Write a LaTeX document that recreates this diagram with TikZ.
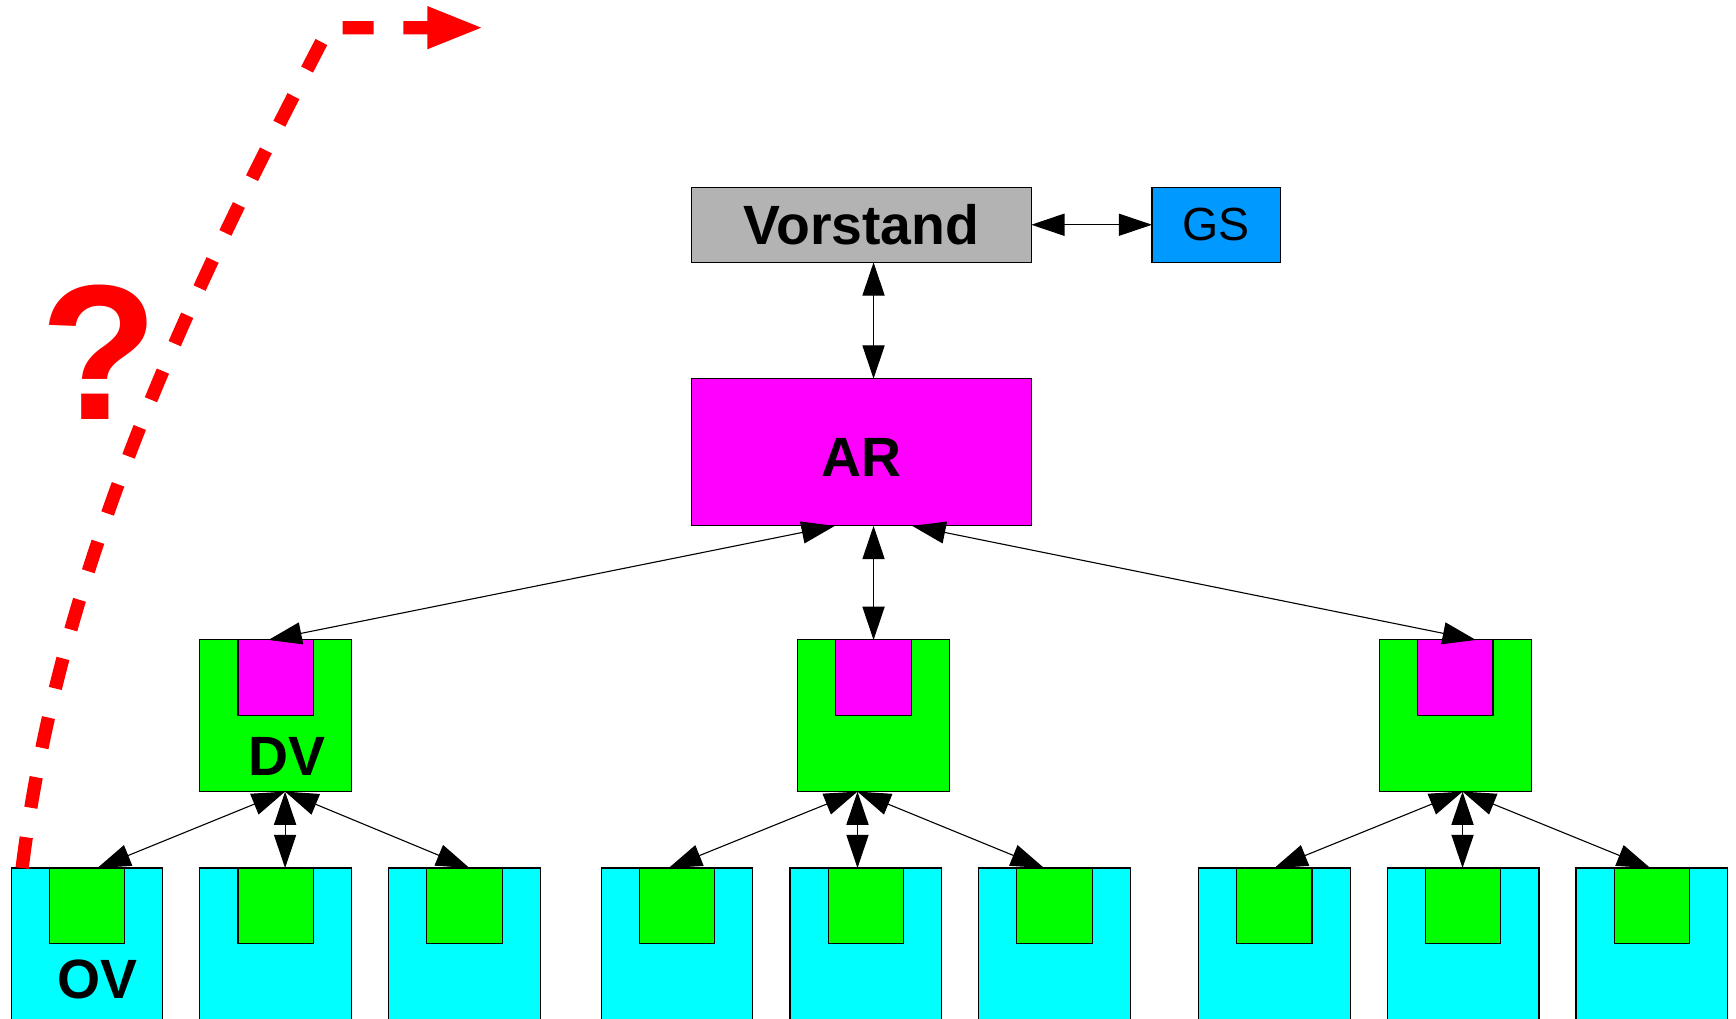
\documentclass[tikz,border=0pt]{standalone}
\usepackage{fontspec}
\setmainfont{Liberation Sans}
\usetikzlibrary{positioning,arrows.meta}

\definecolor{boardgray}{HTML}{B3B3B3}
\definecolor{gsblue}{HTML}{0099FF}
\definecolor{armagenta}{HTML}{FF00FF}
\definecolor{dvgreen}{HTML}{00FF00}
\definecolor{ovcyan}{HTML}{00FFFF}
\definecolor{askred}{HTML}{FF0000}

\begin{document}
\begin{tikzpicture}[x=1pt,y=-1pt,node distance=33.5pt,
        box node/.style={draw=black,line width=1pt,inner sep=0pt,outer sep=0pt},
        head node/.style={box node,minimum width=307pt,font=\fontsize{50}{50}\selectfont\bfseries},
        dv node/.style={box node,fill=dvgreen,minimum width=137pt,minimum height=137pt},
        ov node/.style={box node,fill=ovcyan,minimum width=137pt,minimum height=140pt},
        core node/.style={box node,minimum width=68pt,minimum height=68pt,anchor=north},
        tag node/.style={inner sep=0pt,anchor=base,font=\fontsize{50}{50}\selectfont\bfseries},
        link/.style={line width=1pt,>={Triangle[length=30pt,width=20pt]},<->}]

        \useasboundingbox (0,0) rectangle (1568,920);

        % Define vertices
        \node[ov node,anchor=north west] (ov1) at (10,784) {};
        \node[ov node] (ov2) [right=of ov1] {};
        \node[ov node] (ov3) [right=of ov2] {};
        \node[ov node] (ov4) [right=55pt of ov3] {};
        \node[ov node] (ov5) [right=of ov4] {};
        \node[ov node] (ov6) [right=of ov5] {};
        \node[ov node] (ov7) [right=61.5pt of ov6] {};
        \node[ov node] (ov8) [right=of ov7] {};
        \node[ov node] (ov9) [right=of ov8] {};

        \node[dv node] (dvl) [above=69pt of ov2] {};
        \node[dv node] (dvm) [above=69pt of ov5,xshift=7pt] {};
        \node[dv node] (dvr) [above=69pt of ov8,xshift=-7pt] {};

        \node[head node,fill=armagenta,minimum height=133pt,text height=44pt,text depth=0pt]
            (ar) [above=103pt of dvm,xshift=-11pt] {AR};
        \node[head node,fill=boardgray,minimum height=68pt] (vorstand) [above=105pt of ar] {Vorstand};
        \node[box node,fill=gsblue,minimum width=116pt,minimum height=68pt,
              font=\fontsize{42}{42}\selectfont] (gs) [right=109pt of vorstand] {GS};

        % inner squares
        \node[core node,fill=armagenta] (dvlcore) at (dvl.north) {};
        \node[core node,fill=armagenta] (dvmcore) at (dvm.north) {};
        \node[core node,fill=armagenta] (dvrcore) at (dvr.north) {};
        \node[core node,fill=dvgreen] (ov1core) at (ov1.north) {};
        \node[core node,fill=dvgreen] (ov2core) at (ov2.north) {};
        \node[core node,fill=dvgreen] (ov3core) at (ov3.north) {};
        \node[core node,fill=dvgreen] (ov4core) at (ov4.north) {};
        \node[core node,fill=dvgreen] (ov5core) at (ov5.north) {};
        \node[core node,fill=dvgreen] (ov6core) at (ov6.north) {};
        \node[core node,fill=dvgreen] (ov7core) at (ov7.north) {};
        \node[core node,fill=dvgreen] (ov8core) at (ov8.north) {};
        \node[core node,fill=dvgreen] (ov9core) at (ov9.north) {};

        \node[tag node] (dvtag) at ([xshift=10.5pt,yshift=15pt]dvl.south) {DV};
        \node[tag node] (ovtag) at ([xshift=9.5pt,yshift=-118pt]ov1.north) {OV};

        % Draw edges
        \coordinate (arfoot) at (ar.south -| dvm.north);
        \coordinate (dvlfoot) at ([xshift=8.5pt]dvl.south);
        \coordinate (dvmfoot) at ([xshift=-14.5pt]dvm.south);
        \coordinate (dvrfoot) at ([xshift=6.5pt]dvr.south);

        \path[link]
            (vorstand) edge (gs)
            (vorstand.south -| dvm.north) edge (ar.north -| dvm.north)
            (arfoot) edge (dvm.north)
            ([xshift=-35pt]arfoot) edge ([xshift=-6.5pt]dvl.north)
            ([xshift=35pt]arfoot) edge ([xshift=18.5pt]dvr.north)
            (dvlfoot) edge ([xshift=9.5pt]ov1.north)
            (dvlfoot) edge (dvlfoot |- ov2.north)
            (dvlfoot) edge ([xshift=4.5pt]ov3.north)
            (dvmfoot) edge ([xshift=-7.5pt]ov4.north)
            (dvmfoot) edge (dvmfoot |- ov5.north)
            (dvmfoot) edge ([xshift=-9.5pt]ov6.north)
            (dvrfoot) edge (ov7.north)
            (dvrfoot) edge (dvrfoot |- ov8.north)
            (dvrfoot) edge ([xshift=-1.5pt]ov9.north);

        % the open question
        \node[inner sep=0pt,anchor=base,text=askred,
              font=\fontsize{174}{174}\selectfont\bfseries] (ask) at (90,379) {?};
        \coordinate (start) at ([xshift=10pt]ov1.north west);
        \coordinate (bend) at (297,25);
        \coordinate (away) at (437,25);
        \draw[askred,line width=12pt,dash pattern=on 28pt off 27pt,-{Triangle[length=51pt,width=35pt]}]
            (start) .. controls (55,500) and (180,250) .. (bend) -- (away);

        \end{tikzpicture}
\end{document}
